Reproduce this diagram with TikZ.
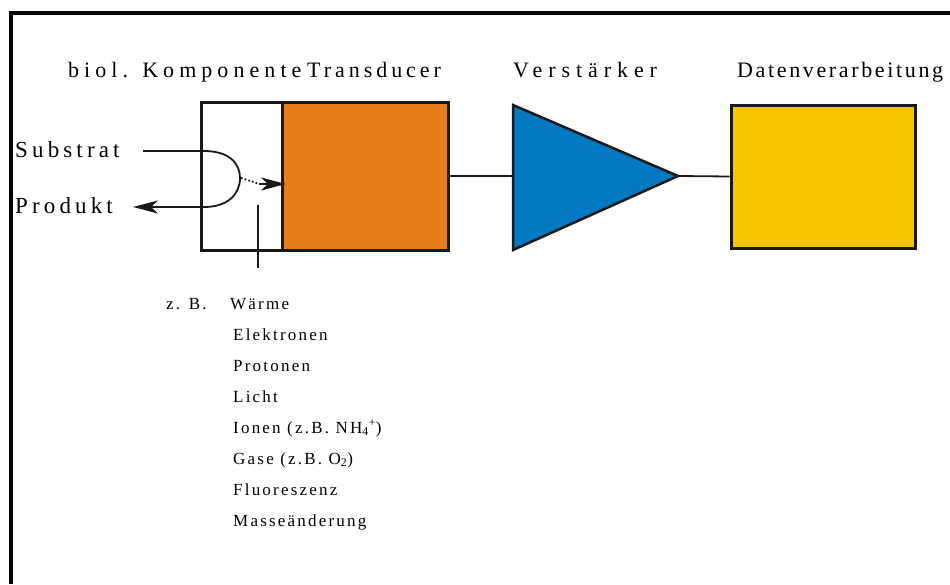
\documentclass[tikz,border=0pt]{standalone}
\usepackage{fontspec}
\setmainfont{Liberation Serif}
\newfontfamily\lsTop[LetterSpace=18]{Liberation Serif}
\newfontfamily\lsBio[LetterSpace=23]{Liberation Serif}
\newfontfamily\lsAmp[LetterSpace=27]{Liberation Serif}
\newfontfamily\lsDat[LetterSpace=12]{Liberation Serif}
\newfontfamily\lsSide[LetterSpace=18]{Liberation Serif}
\newfontfamily\lsList[LetterSpace=13]{Liberation Serif}
\usetikzlibrary{arrows.meta}
\definecolor{transorange}{RGB}{232,126,26}
\definecolor{ampblue}{RGB}{0,120,194}
\definecolor{datyellow}{RGB}{246,198,0}
\begin{document}
\begin{tikzpicture}[x=1pt,y=-1pt,
  lbl/.style={inner sep=0pt, anchor=base west, font=\lsTop\fontsize{22}{26}\selectfont},
  side/.style={inner sep=0pt, anchor=base west, font=\lsSide\fontsize{23}{27}\selectfont},
  small/.style={inner sep=0pt, anchor=base west, font=\lsList\fontsize{17}{20}\selectfont},
  blockbox/.style={draw=black!90, line width=3pt, inner sep=0pt},
  conn/.style={draw=black!90, line width=1.8pt},
  bigtip/.style={-{Stealth[length=25pt,width=13pt,inset=7pt]}}
]
\useasboundingbox (0,0) rectangle (950,584);
% frame
\draw[line width=4pt] (10.5,584) -- (10.5,12.5) -- (950,12.5);

% blocks
\node[blockbox, fill=white, minimum width=81pt, minimum height=148pt] (bio) at (241.5,176) {};
\node[blockbox, fill=transorange, minimum width=166pt, minimum height=148pt] (trans) at (365,176) {};
\coordinate (ampin) at (513,176);
\coordinate (amptop) at (513,105);
\coordinate (ampbot) at (513,250);
\coordinate (amptip) at (678,176);
\draw[draw=black!90, line width=2.5pt, line join=miter, fill=ampblue] (amptop) -- (amptip) -- (ampbot) -- cycle;
\node[blockbox, fill=datyellow, minimum width=184pt, minimum height=143pt] (dat) at (823,176.5) {};

% connectors
\draw[conn] (trans.east) -- (ampin);
\draw[conn] (amptip) -- (dat.west);

% labels
\node[lbl, font=\lsBio\fontsize{22}{26}\selectfont] (lbio) at (68,77) {biol. Komponente};
\node[lbl] (ltrans) at (307,77) {Transducer};
\node[lbl, font=\lsAmp\fontsize{22}{26}\selectfont] (lamp) at (513,77) {Verstärker};
\node[lbl, font=\lsDat\fontsize{22}{26}\selectfont] (ldat) at (737,77) {Datenverarbeitung};
\node[side] (lsub) at (15,157) {Substrat};
\node[side] (lprod) at (15,213) {Produkt};

% substrate / product path
\coordinate (subin) at (143,151);
\coordinate (ctop) at (204,151);
\coordinate (cright) at (240,178);
\coordinate (cbot) at (204,207);
\coordinate (prodout) at (133,207);
\draw[conn] (subin) -- (ctop) .. controls (230,151) and (240,164) .. (cright)
   .. controls (240,194) and (228,207) .. (cbot);
\draw[conn, bigtip] (cbot) -- (prodout);

% signal into transducer
\coordinate (dstart) at (241,178);
\coordinate (dend) at (260,184);
\draw[draw=black!90, line width=1.8pt, dotted] (dstart) -- (dend);
\coordinate (tipend) at (286,184);
\draw[conn, bigtip] (dend) -- (tipend);

% pointer line
\coordinate (ptop) at (258,205);
\coordinate (pbot) at (258,268);
\draw[draw=black!90, line width=1.2pt] (ptop) -- (pbot);

% list
\node[small] (zb) at (166,309) {z. B.};
\node[small] (l1) at (230,309) {Wärme};
\node[small] (l2) at (233,340) {Elektronen};
\node[small] (l3) at (233,371) {Protonen};
\node[small] (l4) at (233,402) {Licht};
\node[small] (l5) at (233,433) {Ionen (z.B. NH\textsubscript{4}\textsuperscript{+})};
\node[small] (l6) at (233,464) {Gase (z.B. O\textsubscript{2})};
\node[small] (l7) at (233,495) {Fluoreszenz};
\node[small] (l8) at (233,526) {Masseänderung};
\end{tikzpicture}
\end{document}
